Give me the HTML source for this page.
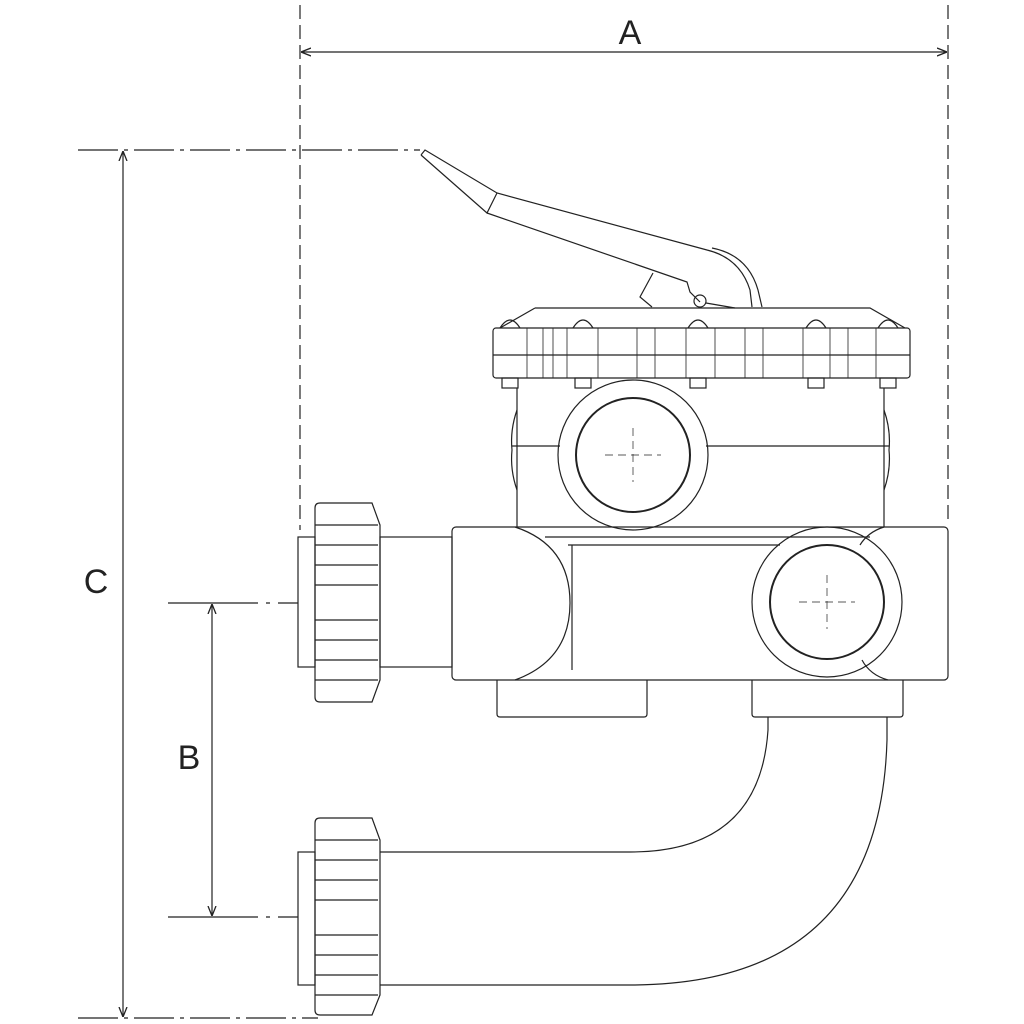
<!DOCTYPE html>
<html><head><meta charset="utf-8"><style>html,body{margin:0;padding:0;background:#fff}svg{display:block}</style></head>
<body>
<svg width="1024" height="1024" viewBox="0 0 1024 1024" xmlns="http://www.w3.org/2000/svg">
<defs>
<marker id="ar" viewBox="0 0 10 10" refX="10" refY="5" markerWidth="10" markerHeight="10" orient="auto-start-reverse" markerUnits="userSpaceOnUse"><path d="M0,1 L10,5 L0,9" fill="none" stroke="#222" stroke-width="1.3"/></marker>
</defs>
<g fill="none" stroke="#222" stroke-width="1.2">
<!-- dimension A -->
<line x1="300" y1="5" x2="300" y2="530" stroke-dasharray="14,6"/>
<line x1="948" y1="5" x2="948" y2="525" stroke-dasharray="14,6"/>
<line x1="301" y1="52" x2="947" y2="52" marker-start="url(#ar)" marker-end="url(#ar)"/>
<!-- C -->
<line x1="78" y1="150" x2="420" y2="150" stroke-dasharray="40,6,4,6"/>
<line x1="78" y1="1018" x2="318" y2="1018" stroke-dasharray="40,6,4,6"/>
<line x1="123" y1="151" x2="123" y2="1017" marker-start="url(#ar)" marker-end="url(#ar)"/>
<!-- B -->
<line x1="168" y1="603" x2="298" y2="603" stroke-dasharray="90,8,4,8"/>
<line x1="168" y1="917" x2="298" y2="917" stroke-dasharray="90,8,4,8"/>
<line x1="212" y1="604" x2="212" y2="916" marker-start="url(#ar)" marker-end="url(#ar)"/>

<!-- handle -->
<path d="M421,155 L425,150 L497,193 L707,250 Q740,258 750,290 L752,307"/>
<path d="M762,307 L758,290 Q748,255 712,248"/>
<path d="M421,155 L487,213 L497,193"/>
<path d="M487,213 L687,282 L690,292 L700,302"/>
<path d="M653,273 L640,297 L652,307"/>
<circle cx="700" cy="301" r="6"/>
<line x1="706" y1="303" x2="735" y2="308"/>

<!-- lid -->
<path d="M535,308 L870,308 L905,328 M535,308 L500,328"/>
<rect x="493" y="328" width="417" height="50" rx="3"/>
<line x1="493" y1="355" x2="910" y2="355"/>
<g stroke-width="0.8">
<line x1="527" y1="328" x2="527" y2="378"/><line x1="543" y1="328" x2="543" y2="378"/><line x1="553" y1="328" x2="553" y2="378"/>
<line x1="567" y1="328" x2="567" y2="378"/><line x1="598" y1="328" x2="598" y2="378"/><line x1="637" y1="328" x2="637" y2="378"/>
<line x1="655" y1="328" x2="655" y2="378"/><line x1="686" y1="328" x2="686" y2="378"/><line x1="715" y1="328" x2="715" y2="378"/>
<line x1="745" y1="328" x2="745" y2="378"/><line x1="763" y1="328" x2="763" y2="378"/><line x1="803" y1="328" x2="803" y2="378"/>
<line x1="830" y1="328" x2="830" y2="378"/><line x1="848" y1="328" x2="848" y2="378"/><line x1="876" y1="328" x2="876" y2="378"/>
</g>
<g>
<path d="M500,328 Q510,312 520,328"/><rect x="502" y="378" width="16" height="10"/>
<path d="M573,328 Q583,312 593,328"/><rect x="575" y="378" width="16" height="10"/>
<path d="M688,328 Q698,312 708,328"/><rect x="690" y="378" width="16" height="10"/>
<path d="M806,328 Q816,312 826,328"/><rect x="808" y="378" width="16" height="10"/>
<path d="M878,328 Q888,312 898,328"/><rect x="880" y="378" width="16" height="10"/>
</g>
<!-- upper body -->
<line x1="517" y1="388" x2="517" y2="527"/>
<line x1="884" y1="388" x2="884" y2="527"/>
<path d="M517,410 Q510,430 512,450 Q510,470 517,490"/>
<path d="M884,410 Q891,430 889,450 Q891,470 884,490"/>
<line x1="512" y1="446" x2="560" y2="446"/><line x1="706" y1="446" x2="889" y2="446"/>
<circle cx="633" cy="455" r="75"/>
<circle cx="633" cy="455" r="57" stroke-width="2"/>
<g stroke-width="0.7" stroke-dasharray="8,5"><line x1="605" y1="455" x2="661" y2="455"/><line x1="633" y1="428" x2="633" y2="482"/></g>

<!-- lower pipe -->
<rect x="452" y="527" width="496" height="153" rx="4"/>
<line x1="545" y1="537" x2="870" y2="537"/>
<line x1="568" y1="545" x2="780" y2="545"/>
<line x1="572" y1="545" x2="572" y2="670"/>
<path d="M515,527 Q570,545 570,603 Q570,660 515,680"/>
<path d="M884,527 Q868,532 860,545"/>
<path d="M862,660 Q870,675 888,680"/>
<circle cx="827" cy="602" r="75"/>
<circle cx="827" cy="602" r="57" stroke-width="2"/>
<g stroke-width="0.7" stroke-dasharray="8,5"><line x1="799" y1="602" x2="855" y2="602"/><line x1="827" y1="575" x2="827" y2="629"/></g>
<!-- stubs -->
<path d="M497,680 L497,714 Q497,717 500,717 L644,717 Q647,717 647,714 L647,680"/>
<path d="M752,680 L752,714 Q752,717 755,717 L900,717 Q903,717 903,714 L903,680"/>

<!-- left connector upper -->
<rect x="380" y="537" width="72" height="130"/>
<rect x="298" y="537" width="17" height="130"/>
<path d="M320,503 L372,503 L380,525 L380,680 L372,702 L320,702 Q315,702 315,697 L315,508 Q315,503 320,503Z"/>
<g>
<line x1="315" y1="525" x2="378" y2="525"/><line x1="315" y1="545" x2="378" y2="545"/>
<line x1="315" y1="565" x2="378" y2="565"/><line x1="315" y1="585" x2="378" y2="585"/>
<line x1="315" y1="620" x2="378" y2="620"/><line x1="315" y1="640" x2="378" y2="640"/>
<line x1="315" y1="660" x2="378" y2="660"/><line x1="315" y1="680" x2="378" y2="680"/>
</g>
<!-- left connector lower -->
<rect x="298" y="852" width="17" height="133"/>
<path d="M320,818 L372,818 L380,840 L380,995 L372,1015 L320,1015 Q315,1015 315,1010 L315,823 Q315,818 320,818Z"/>
<g>
<line x1="315" y1="840" x2="378" y2="840"/><line x1="315" y1="860" x2="378" y2="860"/>
<line x1="315" y1="880" x2="378" y2="880"/><line x1="315" y1="900" x2="378" y2="900"/>
<line x1="315" y1="935" x2="378" y2="935"/><line x1="315" y1="955" x2="378" y2="955"/>
<line x1="315" y1="975" x2="378" y2="975"/><line x1="315" y1="995" x2="378" y2="995"/>
</g>
<!-- elbow -->
<path d="M768,717 L768,730 Q760,852 630,852 L380,852"/>
<path d="M887,717 L887,740 Q880,985 630,985 L380,985"/>
</g>
<g font-family="Liberation Sans, sans-serif" font-size="34" fill="#222" text-anchor="middle">
<text x="630" y="44">A</text>
<text x="96" y="593">C</text>
<text x="189" y="769">B</text>
</g>
</svg>
</body></html>
